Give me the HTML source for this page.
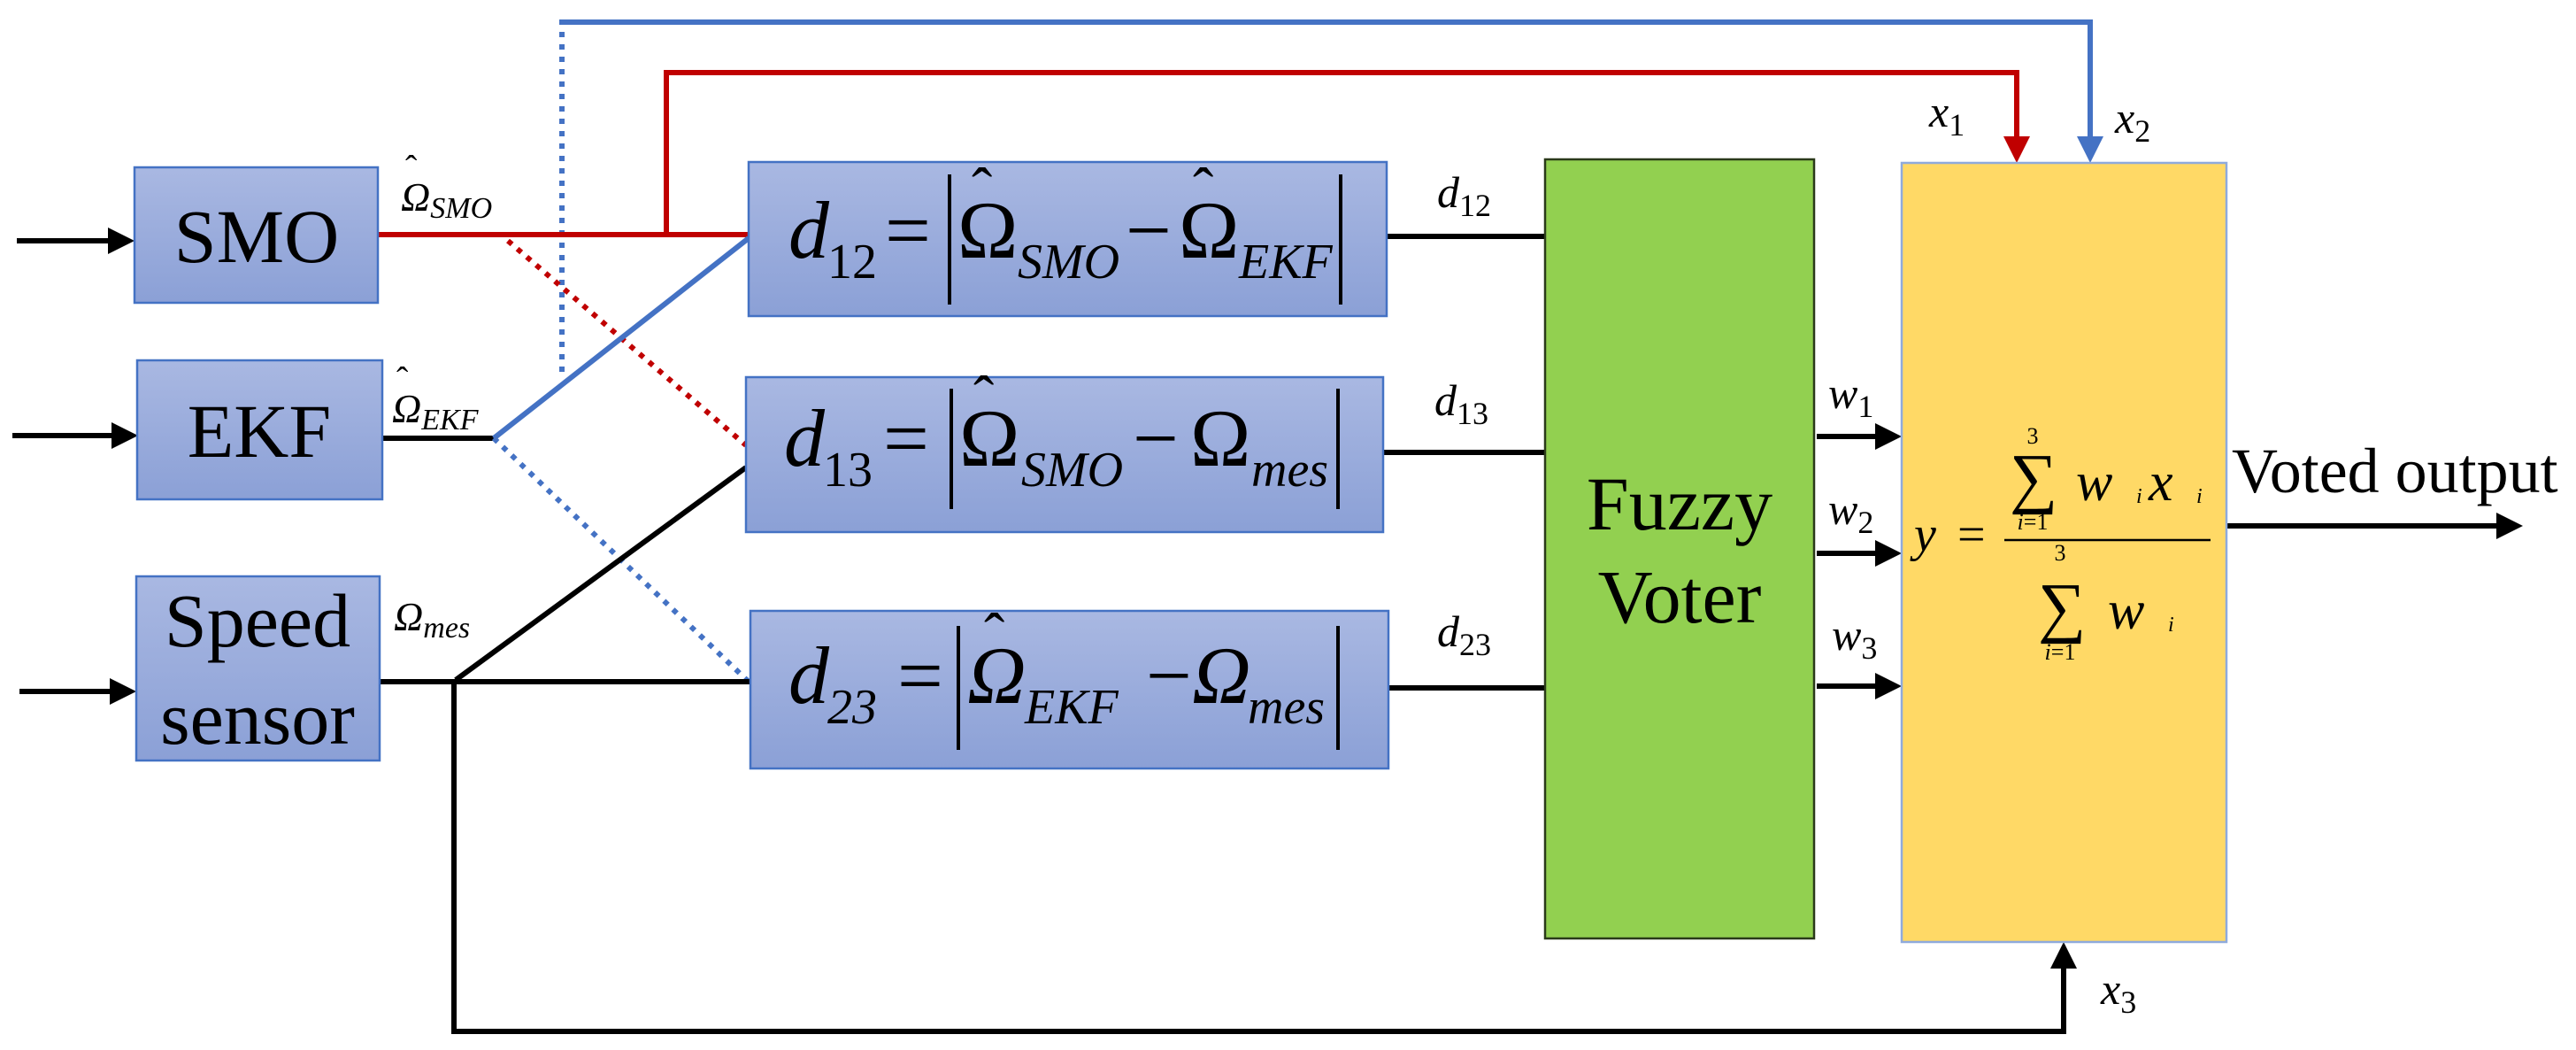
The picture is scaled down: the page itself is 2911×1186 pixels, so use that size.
<!DOCTYPE html>
<html><head><meta charset="utf-8"><style>
html,body{margin:0;padding:0;background:#fff;}
svg{display:block;}
text{font-family:"Liberation Serif",serif;fill:#000;}
.it{font-style:italic;}
</style></head><body>
<svg width="2911" height="1186" viewBox="0 0 2911 1186" xmlns="http://www.w3.org/2000/svg">
<defs>
<linearGradient id="bg" x1="0" y1="0" x2="0" y2="1">
<stop offset="0" stop-color="#a9b8e2"/><stop offset="1" stop-color="#8ba0d6"/>
</linearGradient>
<marker id="ak" markerWidth="5" markerHeight="5" refX="4" refY="2.5" orient="auto" markerUnits="strokeWidth"><path d="M0,0 L5,2.5 L0,5 Z" fill="#000"/></marker>
<marker id="ar" markerWidth="5" markerHeight="5" refX="4" refY="2.5" orient="auto" markerUnits="strokeWidth"><path d="M0,0 L5,2.5 L0,5 Z" fill="#c00000"/></marker>
<marker id="ab" markerWidth="5" markerHeight="5" refX="4" refY="2.5" orient="auto" markerUnits="strokeWidth"><path d="M0,0 L5,2.5 L0,5 Z" fill="#4472c4"/></marker>
</defs>

<!-- connectors -->
<g fill="none" stroke-width="6">
<polyline points="635,420 635,25 2362,25 2362,178" stroke="#4472c4" stroke-dasharray="6,8" />
<polyline points="635,25 2362,25 2362,178" stroke="#4472c4" marker-end="url(#ab)"/>
<polyline points="753,265 753,82 2279,82 2279,178" stroke="#c00000" marker-end="url(#ar)"/>
<line x1="427" y1="265" x2="846" y2="265" stroke="#c00000"/>
<line x1="574" y1="272" x2="843" y2="503" stroke="#c00000" stroke-dasharray="6,8"/>
<line x1="432" y1="495" x2="558" y2="495" stroke="#000"/>
<line x1="558" y1="495" x2="846" y2="269" stroke="#4472c4"/>
<line x1="558" y1="495" x2="848" y2="772" stroke="#4472c4" stroke-dasharray="6,8"/>
<line x1="429" y1="770" x2="848" y2="770" stroke="#000"/>
<line x1="515" y1="768" x2="843" y2="528" stroke="#000"/>
<polyline points="513,770 513,1165 2332,1165 2332,1070" stroke="#000" marker-end="url(#ak)"/>
<line x1="19" y1="272" x2="146" y2="272" stroke="#000" marker-end="url(#ak)"/>
<line x1="14" y1="492" x2="150" y2="492" stroke="#000" marker-end="url(#ak)"/>
<line x1="22" y1="781" x2="148" y2="781" stroke="#000" marker-end="url(#ak)"/>
<line x1="1567" y1="267" x2="1746" y2="267" stroke="#000"/>
<line x1="1563" y1="511" x2="1746" y2="511" stroke="#000"/>
<line x1="1569" y1="777" x2="1746" y2="777" stroke="#000"/>
<line x1="2053" y1="493" x2="2143" y2="493" stroke="#000" marker-end="url(#ak)"/>
<line x1="2053" y1="625" x2="2143" y2="625" stroke="#000" marker-end="url(#ak)"/>
<line x1="2053" y1="775" x2="2143" y2="775" stroke="#000" marker-end="url(#ak)"/>
<line x1="2516" y1="594" x2="2845" y2="594" stroke="#000" marker-end="url(#ak)"/>
</g>

<!-- boxes -->
<g stroke="#4472c4" stroke-width="2.5" fill="url(#bg)">
<rect x="152" y="189" width="275" height="153"/>
<rect x="155" y="407" width="277" height="157"/>
<rect x="154" y="651" width="275" height="208"/>
<rect x="846" y="183" width="721" height="174"/>
<rect x="843" y="426" width="720" height="175"/>
<rect x="848" y="690" width="721" height="178"/>
</g>
<rect x="1746" y="180" width="304" height="880" fill="#92d050" stroke="#2a3a1a" stroke-width="2.5"/>
<rect x="2149" y="184" width="367" height="880" fill="#ffd966" stroke="#8faadc" stroke-width="2.5"/>

<!-- box labels -->
<text x="290" y="296" font-size="86" text-anchor="middle">SMO</text>
<text x="293" y="516" font-size="86" text-anchor="middle">EKF</text>
<text x="291" y="730" font-size="86" text-anchor="middle">Speed</text>
<text x="291" y="840" font-size="86" text-anchor="middle">sensor</text>
<text x="1898" y="598" font-size="86" text-anchor="middle">Fuzzy</text>
<text x="1898" y="703" font-size="86" text-anchor="middle">Voter</text>

<!-- signal labels -->
<text x="453" y="238" font-size="46" class="it">Ω<tspan font-size="34" dy="8">SMO</tspan></text>
<text x="458" y="203" font-size="40">ˆ</text>
<text x="443" y="477" font-size="46" class="it">Ω<tspan font-size="34" dy="8">EKF</tspan></text>
<text x="448" y="442" font-size="40">ˆ</text>
<text x="445" y="712" font-size="46" class="it">Ω<tspan font-size="34" dy="8">mes</tspan></text>
<text x="1624" y="234" font-size="50" class="it">d<tspan font-size="36" font-style="normal" dy="10">12</tspan></text>
<text x="1621" y="469" font-size="50" class="it">d<tspan font-size="36" font-style="normal" dy="10">13</tspan></text>
<text x="1624" y="730" font-size="50" class="it">d<tspan font-size="36" font-style="normal" dy="10">23</tspan></text>
<text x="2066" y="461" font-size="50" class="it">w<tspan font-size="36" font-style="normal" dy="10">1</tspan></text>
<text x="2066" y="592" font-size="50" class="it">w<tspan font-size="36" font-style="normal" dy="10">2</tspan></text>
<text x="2070" y="734" font-size="50" class="it">w<tspan font-size="36" font-style="normal" dy="10">3</tspan></text>
<text x="2180" y="143" font-size="50" class="it">x<tspan font-size="36" font-style="normal" dy="10">1</tspan></text>
<text x="2390" y="150" font-size="50" class="it">x<tspan font-size="36" font-style="normal" dy="10">2</tspan></text>
<text x="2374" y="1134" font-size="50" class="it">x<tspan font-size="36" font-style="normal" dy="10">3</tspan></text>
<text x="2522" y="556" font-size="72">Voted output</text>

<!-- d12 formula -->
<g>
<text x="891" y="291" font-size="92" class="it">d</text>
<text x="935" y="314" font-size="56">12</text>
<text x="1000" y="291" font-size="92">=</text>
<line x1="1073" y1="197" x2="1073" y2="344" stroke="#000" stroke-width="4"/>
<text x="1082" y="291" font-size="92">Ω</text>
<text x="1098" y="238" font-size="70">ˆ</text>
<text x="1150" y="314" font-size="56" class="it">SMO</text>
<text x="1272" y="291" font-size="92">−</text>
<text x="1332" y="291" font-size="92">Ω</text>
<text x="1348" y="238" font-size="70">ˆ</text>
<text x="1400" y="314" font-size="56" class="it">EKF</text>
<line x1="1515" y1="197" x2="1515" y2="344" stroke="#000" stroke-width="4"/>
</g>
<!-- d13 formula -->
<g>
<text x="886" y="526" font-size="92" class="it">d</text>
<text x="930" y="549" font-size="56">13</text>
<text x="998" y="526" font-size="92">=</text>
<line x1="1075" y1="439" x2="1075" y2="575" stroke="#000" stroke-width="4"/>
<text x="1084" y="526" font-size="92">Ω</text>
<text x="1100" y="473" font-size="70">ˆ</text>
<text x="1154" y="549" font-size="56" class="it">SMO</text>
<text x="1280" y="526" font-size="92">−</text>
<text x="1345" y="526" font-size="92">Ω</text>
<text x="1414" y="549" font-size="56" class="it">mes</text>
<line x1="1512" y1="439" x2="1512" y2="575" stroke="#000" stroke-width="4"/>
</g>
<!-- d23 formula -->
<g>
<text x="891" y="794" font-size="92" class="it">d</text>
<text x="935" y="817" font-size="56" class="it">23</text>
<text x="1014" y="794" font-size="92">=</text>
<line x1="1083" y1="707" x2="1083" y2="847" stroke="#000" stroke-width="4"/>
<text x="1093" y="794" font-size="92" class="it">Ω</text>
<text x="1112" y="741" font-size="70">ˆ</text>
<text x="1158" y="817" font-size="56" class="it">EKF</text>
<text x="1295" y="794" font-size="92">−</text>
<text x="1347" y="794" font-size="92" class="it">Ω</text>
<text x="1410" y="817" font-size="56" class="it">mes</text>
<line x1="1512" y1="707" x2="1512" y2="847" stroke="#000" stroke-width="4"/>
</g>

<!-- voting formula -->
<g>
<text x="2163" y="622" font-size="56" class="it">y</text>
<text x="2212" y="622" font-size="56">=</text>
<line x1="2265" y1="610" x2="2498" y2="610" stroke="#000" stroke-width="2.5"/>
<text x="2297" y="501" font-size="26" text-anchor="middle">3</text>
<text x="2271" y="565" font-size="76">∑</text>
<text x="2297" y="598" font-size="26" text-anchor="middle"><tspan class="it">i</tspan>=1</text>
<text x="2346" y="565" font-size="62" class="it">w</text>
<text x="2414" y="568" font-size="24" class="it">i</text>
<text x="2428" y="565" font-size="62" class="it">x</text>
<text x="2482" y="568" font-size="24" class="it">i</text>
<text x="2328" y="633" font-size="26" text-anchor="middle">3</text>
<text x="2303" y="711" font-size="76">∑</text>
<text x="2328" y="745" font-size="26" text-anchor="middle"><tspan class="it">i</tspan>=1</text>
<text x="2382" y="710" font-size="62" class="it">w</text>
<text x="2450" y="713" font-size="24" class="it">i</text>
</g>
</svg>
</body></html>
